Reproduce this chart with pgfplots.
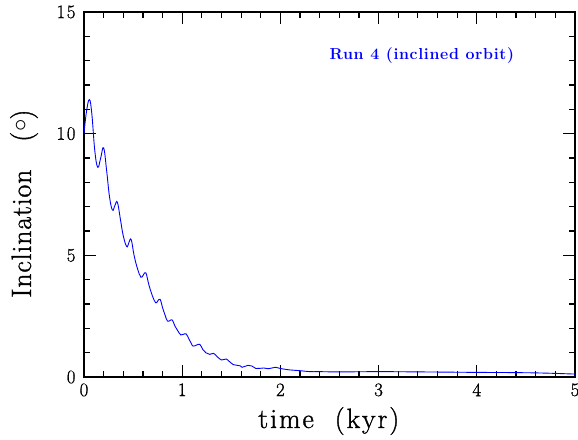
\documentclass[border=0pt]{standalone}
\usepackage{fontspec}
\usepackage{pgfplots}
\pgfplotsset{compat=1.18}
\usetikzlibrary{calc}
\newfontfamily\labfont[LetterSpace=3,FakeBold=1.2]{Latin Modern Roman}
\newfontfamily\xlabfont[LetterSpace=7,FakeBold=1.2]{Latin Modern Roman}
\newfontfamily\tickfont[LetterSpace=8,FakeBold=1.0]{Latin Modern Roman}
\newfontfamily\titfont[LetterSpace=4]{Latin Modern Roman}
\begin{document}
\begin{tikzpicture}
\begin{axis}[
  name=ax,
  scale only axis,
  width=491bp, height=365bp,
  xmin=0, xmax=5, ymin=0, ymax=15,
  xtick={0,1,2,3,4,5}, ytick={0,5,10,15},
  minor x tick num=4, minor y tick num=4,
  tick align=inside,
  major tick length=12bp, minor tick length=6bp,
  every tick/.style={black, line width=1.2pt},
  axis line style={line width=1.3pt},
  ticklabel style={font=\tickfont\fontsize{19}{19}\selectfont},
  /pgf/number format/assume math mode=true,
  xticklabel style={yshift=-3bp},
  yticklabel style={xshift=-5bp},
  xlabel={time\hspace{0.75em}(kyr)},
  ylabel={Inclination\hspace{1.0em}(\raisebox{0.35ex}{$\circ$})},
  xlabel style={font=\xlabfont\fontsize{28}{28}\selectfont, at={(axis description cs:0.4985,-0.1397)}, anchor=base},
  ylabel style={font=\labfont\fontsize{28}{28}\selectfont, at={(axis description cs:-0.108,0.475)}, anchor=base, rotate=0},
  clip=true,
]
\addplot[blue, line width=0.9pt, smooth, tension=0.7] coordinates {
(0,10.0) (0.025,10.9) (0.055,11.4) (0.08,10.8) (0.11,9.3) (0.14,8.62)
(0.17,9.0) (0.20,9.42) (0.23,8.5) (0.26,7.4) (0.29,6.86) (0.315,7.05)
(0.34,7.18) (0.37,6.5) (0.40,5.8) (0.435,5.36) (0.455,5.5) (0.48,5.65)
(0.51,5.0) (0.545,4.45) (0.58,4.10) (0.605,4.2) (0.63,4.28) (0.66,3.8)
(0.695,3.35) (0.73,3.05) (0.75,3.12) (0.775,3.19) (0.80,2.85) (0.825,2.55)
(0.85,2.30) (0.875,2.32) (0.90,2.34) (0.925,2.1) (0.955,1.9) (0.985,1.73)
(1.01,1.75) (1.04,1.77) (1.07,1.55) (1.09,1.40) (1.11,1.27) (1.145,1.31)
(1.18,1.34) (1.21,1.13) (1.24,1.0) (1.28,0.93) (1.32,0.97) (1.36,0.82)
(1.40,0.70) (1.425,0.72) (1.45,0.74) (1.49,0.6) (1.52,0.51) (1.56,0.48)
(1.59,0.46) (1.61,0.40) (1.64,0.44) (1.67,0.48) (1.71,0.45) (1.75,0.35)
(1.83,0.37) (1.88,0.34) (1.95,0.40) (2.0,0.35) (2.1,0.29) (2.2,0.26)
(2.3,0.22) (2.4,0.22) (2.6,0.21) (3.0,0.22) (3.4,0.21) (4.0,0.19)
(4.4,0.18) (4.7,0.16) (5.0,0.12)
};
\node[blue, font=\titfont\bfseries\fontsize{16}{16}\selectfont, anchor=center] at (axis cs:3.44,13.23) {Run 4 (inclined orbit)};
\end{axis}
\pgfresetboundingbox
\path ($(ax.south west)+(-84bp,-62bp)$) rectangle ($(ax.north east)+(3bp,12bp)$);
\end{tikzpicture}
\end{document}
